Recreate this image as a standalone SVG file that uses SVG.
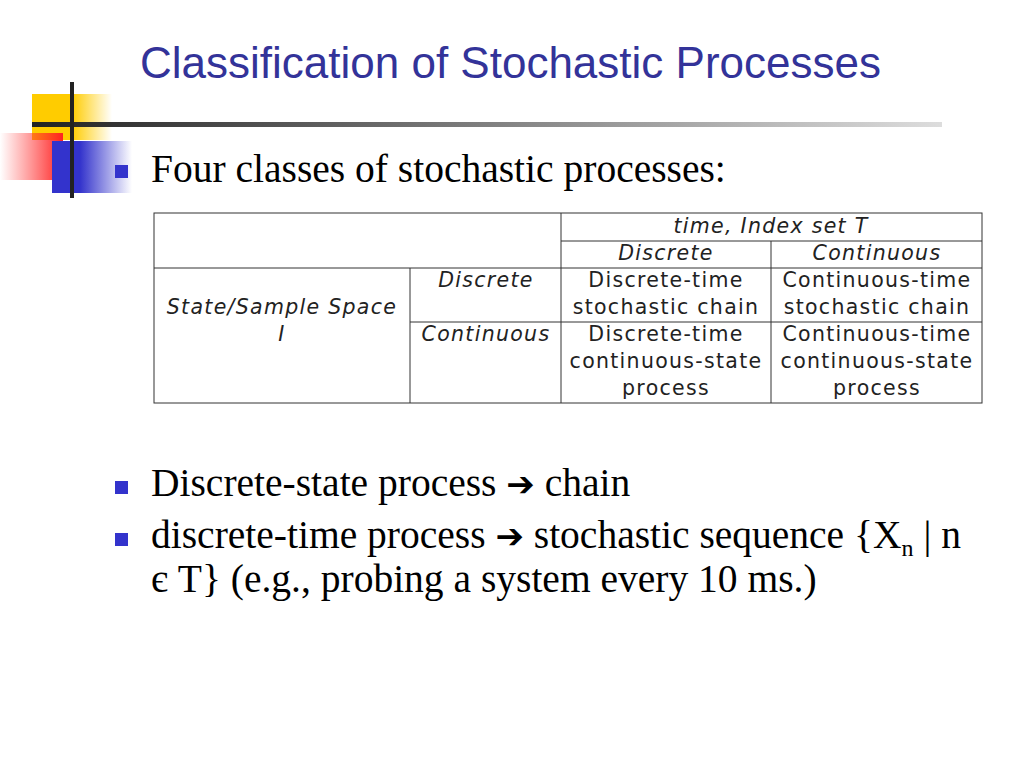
<svg xmlns="http://www.w3.org/2000/svg" width="1024" height="768" viewBox="0 0 1024 768">
<defs>
<linearGradient id="gy" x1="0" x2="1"><stop offset="0.5" stop-color="#ffcc00"/><stop offset="1" stop-color="#ffcc00" stop-opacity="0"/></linearGradient>
<linearGradient id="gr" x1="0" x2="1"><stop offset="0" stop-color="#ff3333" stop-opacity="0"/><stop offset="1" stop-color="#ff2222"/></linearGradient>
<linearGradient id="gb" x1="0" x2="1"><stop offset="0.35" stop-color="#3333cc"/><stop offset="1" stop-color="#3333cc" stop-opacity="0"/></linearGradient>
<linearGradient id="gl" x1="0" x2="1"><stop offset="0" stop-color="#222"/><stop offset="1" stop-color="#ddd"/></linearGradient>
<style>
.t{font-family:"DejaVu Sans",sans-serif;font-size:20.5px;letter-spacing:1.3px;fill:#222;text-anchor:middle}
.i{font-style:oblique}
.b{font-family:"Liberation Serif",serif;font-size:39.5px;fill:#000}
.a{font-family:"DejaVu Sans",sans-serif;font-size:34px}
.g line{stroke:#333;stroke-width:1}
</style>
</defs>
<rect width="1024" height="768" fill="#fff"/>
<text x="140" y="78" font-family="Liberation Sans,sans-serif" font-size="44" fill="#333399">Classification of Stochastic Processes</text>
<g id="logo">
<rect x="32" y="94" width="80" height="46" fill="url(#gy)"/>
<rect x="0" y="133" width="63" height="47" fill="url(#gr)"/>
<rect x="52" y="141" width="80" height="52" fill="url(#gb)"/>
<rect x="32" y="122" width="910" height="5" fill="url(#gl)"/>
<rect x="70" y="82" width="4" height="116" fill="#222"/>
</g>
<rect x="115" y="165" width="13" height="13" fill="#3333cc"/>
<text class="b" x="151" y="182">Four classes of stochastic processes:</text>
<g id="table" class="g">
<rect x="154" y="213" width="828" height="190" fill="none" stroke="#333"/>
<line x1="561" y1="213" x2="561" y2="403"/>
<line x1="561" y1="241" x2="982" y2="241"/>
<line x1="154" y1="268" x2="982" y2="268"/>
<line x1="410" y1="268" x2="410" y2="403"/>
<line x1="771" y1="241" x2="771" y2="403"/>
<line x1="410" y1="322" x2="982" y2="322"/>
</g>
<g id="labels">
<text class="t i" x="771" y="233">time, Index set T</text>
<text class="t i" x="666" y="260">Discrete</text>
<text class="t i" x="877" y="260">Continuous</text>
<text class="t i" x="282" y="314">State/Sample Space</text>
<text class="t i" x="282" y="341">I</text>
<text class="t i" x="486" y="287">Discrete</text>
<text class="t i" x="486" y="341">Continuous</text>
<text class="t" x="666" y="287">Discrete-time</text>
<text class="t" x="666" y="314">stochastic chain</text>
<text class="t" x="877" y="287">Continuous-time</text>
<text class="t" x="877" y="314">stochastic chain</text>
<text class="t" x="666" y="341">Discrete-time</text>
<text class="t" x="666" y="368">continuous-state</text>
<text class="t" x="666" y="395">process</text>
<text class="t" x="877" y="341">Continuous-time</text>
<text class="t" x="877" y="368">continuous-state</text>
<text class="t" x="877" y="395">process</text>
</g>
<rect x="115" y="481" width="13" height="13" fill="#3333cc"/>
<text class="b" x="151" y="496">Discrete-state process <tspan class="a">➔</tspan> chain</text>
<rect x="115" y="533" width="13" height="13" fill="#3333cc"/>
<text class="b" x="151" y="548">discrete-time process <tspan class="a">➔</tspan> stochastic sequence {X<tspan font-size="24" dy="8">n</tspan><tspan dy="-8"> | n</tspan></text>
<text class="b" x="151" y="592">є T} (e.g., probing a system every 10 ms.)</text>
</svg>
